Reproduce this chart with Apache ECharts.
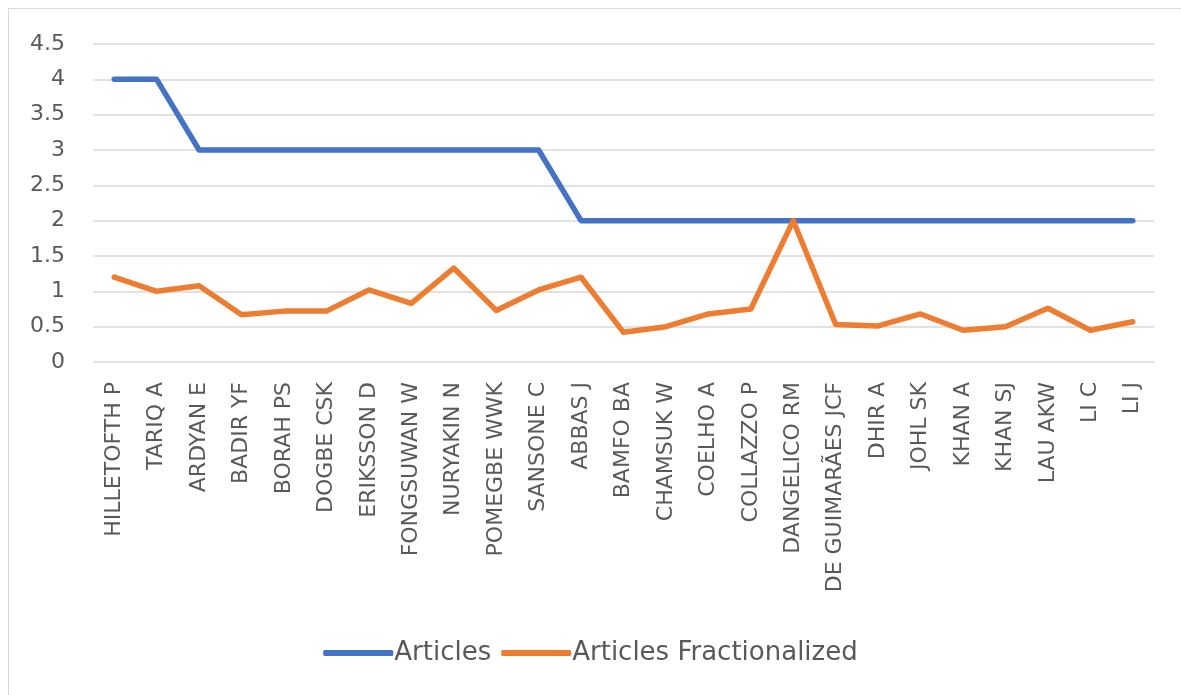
<!DOCTYPE html>
<html>
<head>
<meta charset="utf-8">
<script src="https://cdn.jsdelivr.net/npm/echarts@6/dist/echarts.min.js"></script>
<style>
  html, body { margin: 0; padding: 0; background: #fff; }
  #chart { width: 1181px; height: 695px; }
  .frame { position: absolute; left: 8px; top: 8px; width: 1200px; height: 700px; border: 1px solid #d9d9d9; box-sizing: border-box; pointer-events: none; }
</style>
</head>
<body>
<div id="chart"></div>
<div class="frame"></div>
<script>
const authors = [
  'HILLETOFTH P', 'TARIQ A', 'ARDYAN E', 'BADIR YF', 'BORAH PS', 'DOGBE CSK',
  'ERIKSSON D', 'FONGSUWAN W', 'NURYAKIN N', 'POMEGBE WWK', 'SANSONE C',
  'ABBAS J', 'BAMFO BA', 'CHAMSUK W', 'COELHO A', 'COLLAZZO P', 'DANGELICO RM',
  'DE GUIMARÃES JCF', 'DHIR A', 'JOHL SK', 'KHAN A', 'KHAN SJ', 'LAU AKW', 'LI C', 'LI J'
];
const articles = [4, 4, 3, 3, 3, 3, 3, 3, 3, 3, 3, 2, 2, 2, 2, 2, 2, 2, 2, 2, 2, 2, 2, 2, 2];
const fractionalized = [
  1.2, 1.0, 1.08, 0.67, 0.72, 0.72, 1.02, 0.83, 1.33, 0.73, 1.02,
  1.2, 0.42, 0.5, 0.68, 0.75, 2.0, 0.53, 0.51, 0.68, 0.45, 0.5, 0.76, 0.45, 0.57
];

const chart = echarts.init(document.getElementById('chart'));
const txt = '#595959';
const wide = "'DejaVu Sans', Verdana, sans-serif";
chart.setOption({
  animation: false,
  textStyle: { fontFamily: wide },
  grid: { left: 93, right: 27, top: 44, bottom: 333 },
  legend: {
    bottom: 24,
    left: 'center',
    itemWidth: 70,
    itemHeight: 6,
    itemGap: 10,
    icon: 'roundRect',
    textStyle: { color: txt, fontSize: 26, fontFamily: wide, padding: [0, 0, 0, -4] },
    data: ['Articles', 'Articles Fractionalized']
  },
  xAxis: {
    type: 'category',
    data: authors,
    boundaryGap: true,
    axisLine: { show: false },
    axisTick: { show: false },
    axisLabel: { rotate: 90, color: txt, fontSize: 22, margin: 20, interval: 0, fontFamily: wide }
  },
  yAxis: {
    type: 'value',
    min: 0,
    max: 4.5,
    interval: 0.5,
    axisLabel: { color: txt, fontSize: 22, margin: 28, fontFamily: wide },
    splitLine: { lineStyle: { color: '#d9d9d9', width: 1.5 } }
  },
  series: [
    {
      name: 'Articles',
      type: 'line',
      data: articles,
      symbol: 'none',
      itemStyle: { color: '#4472c4' },
      lineStyle: { width: 5.5, cap: 'round', join: 'round' }
    },
    {
      name: 'Articles Fractionalized',
      type: 'line',
      data: fractionalized,
      symbol: 'none',
      itemStyle: { color: '#ed7d31' },
      lineStyle: { width: 5.5, cap: 'round', join: 'round' }
    }
  ]
});
</script>
</body>
</html>
